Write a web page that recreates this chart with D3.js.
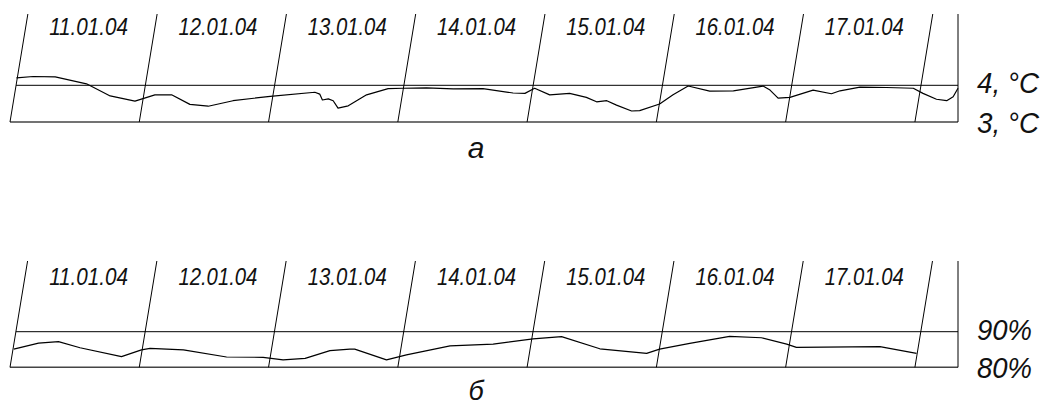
<!DOCTYPE html>
<html>
<head>
<meta charset="utf-8">
<script src="https://d3js.org/d3.v7.min.js"></script>
<style>
  body { margin: 0; background: #fff; }
  svg { display: block; background: #fff; }
  .grid { stroke: #000; stroke-width: 1; fill: none; }
  .base { stroke: #444; stroke-width: 1.6; }
  .curve { fill: none; stroke: #000; stroke-width: 1.2; stroke-linejoin: round; }
  .day { font-family: "Liberation Sans Narrow", "Liberation Sans", sans-serif; font-style: italic; font-size: 24px; fill: #111; }
  .unit { font-family: "Liberation Sans", sans-serif; font-style: italic; font-size: 29px; fill: #111; }
  .cap { font-family: "Liberation Sans", sans-serif; font-style: italic; font-size: 28px; fill: #111; }
</style>
</head>
<body>
<svg id="chart"></svg>
<script>
// days shown along the time axis (hour 0 = start of 11.01.04)
var days = ["11.01.04", "12.01.04", "13.01.04", "14.01.04", "15.01.04", "16.01.04", "17.01.04"];
var dayBounds = [0, 24, 48, 72, 96, 120, 144, 168];

// air temperature, °C  [hour, value]
var tempSeries = [
  [1.2, 4.20], [4.3, 4.24], [8.4, 4.23], [14.2, 4.04], [18.6, 3.71], [23.2, 3.57],
  [26.9, 3.74], [30.0, 3.74], [33.4, 3.48], [36.8, 3.43], [41.4, 3.58], [48.3, 3.70],
  [56.6, 3.81], [57.5, 3.76], [58.0, 3.60], [59.1, 3.63], [60.0, 3.58], [60.9, 3.38],
  [62.8, 3.44], [66.2, 3.74], [70.2, 3.91], [73.0, 3.92], [77.3, 3.93], [82.3, 3.90],
  [87.8, 3.91], [93.4, 3.79], [95.6, 3.78], [97.4, 3.92], [100.2, 3.74], [103.9, 3.78],
  [107.0, 3.67], [108.9, 3.55], [110.8, 3.58], [112.6, 3.46], [115.4, 3.30], [116.9, 3.31],
  [120.6, 3.49], [123.1, 3.74], [125.9, 3.98], [129.9, 3.84], [134.3, 3.85], [139.8, 3.98],
  [141.1, 3.87], [142.6, 3.65], [144.8, 3.67], [149.1, 3.87], [152.5, 3.77], [154.1, 3.85],
  [157.8, 3.95], [162.7, 3.94], [167.7, 3.92], [169.5, 3.78], [172.0, 3.62], [173.9, 3.58],
  [175.1, 3.69], [176.0, 3.92]
];
var tempTicks = [3, 4];
var tempLabels = ["3, °C", "4, °C"];

// relative humidity, %  [hour, value]
var humSeries = [
  [0.7, 85.1], [5.3, 86.8], [9.0, 87.2], [13.0, 85.5], [20.7, 83.0], [24.4, 84.9],
  [26.0, 85.3], [32.2, 84.9], [40.2, 82.9], [47.0, 82.8], [50.7, 82.1], [54.8, 82.5],
  [59.4, 84.7], [63.1, 85.1], [64.0, 85.1], [69.9, 82.1], [73.6, 83.5], [81.7, 86.0],
  [89.7, 86.5], [97.1, 88.0], [102.4, 88.6], [109.5, 85.2], [118.2, 83.9], [120.6, 85.1],
  [126.2, 86.7], [133.6, 88.7], [139.5, 88.3], [144.2, 86.5], [146.0, 85.6], [161.5, 85.8],
  [168.3, 83.9]
];
var humTicks = [80, 90];
var humLabels = ["80%", "90%"];

var captions = ["а", "б"];

var W = 1044, H = 407;
var svg = d3.select("#chart").attr("width", W).attr("height", H);

var x = d3.scaleLinear().domain([0, 176]).range([10, 958]);
var slant = 17.7 / 107; // horizontal shift per px of height for day dividers

var panels = [
  { series: tempSeries, ticks: tempTicks, labels: tempLabels, caption: captions[0],
    top: 14, y: d3.scaleLinear().domain([3, 4]).range([122, 85.3]),
    dayY: 35, capY: 158, capSize: 30 },
  { series: humSeries, ticks: humTicks, labels: humLabels, caption: captions[1],
    top: 261, y: d3.scaleLinear().domain([80, 90]).range([367.3, 331.7]),
    dayY: 285, capY: 400, capSize: 27 }
];

panels.forEach(function (p) {
  var g = svg.append("g");
  var y = p.y;
  var y0 = y(p.ticks[0]), y1 = y(p.ticks[1]);
  var shift = function (yy) { return (y0 - yy) * slant; };
  var xEnd = x.range()[1];

  // bottom axis and upper reference line
  g.append("line").attr("class", "base")
    .attr("x1", x(0)).attr("x2", xEnd).attr("y1", y0).attr("y2", y0);
  g.append("line").attr("class", "grid")
    .attr("x1", x(0) + shift(y1)).attr("x2", xEnd).attr("y1", y1).attr("y2", y1);

  // right edge
  g.append("line").attr("class", "grid")
    .attr("x1", xEnd).attr("x2", xEnd).attr("y1", p.top).attr("y2", y0);

  // slanted day dividers
  g.selectAll(".div").data(dayBounds).enter().append("line")
    .attr("class", "grid")
    .attr("x1", function (d) { return x(d); })
    .attr("y1", y0)
    .attr("x2", function (d) { return x(d) + shift(p.top); })
    .attr("y2", p.top);

  // day labels
  g.selectAll(".day").data(days).enter().append("text")
    .attr("class", "day")
    .attr("x", function (d, i) { return x(dayBounds[i] + 12) + 14; })
    .attr("y", p.dayY)
    .attr("text-anchor", "middle")
    .attr("textLength", 79)
    .attr("lengthAdjust", "spacingAndGlyphs")
    .text(function (d) { return d; });

  // data curve
  var line = d3.line()
    .x(function (d) { return x(d[0]); })
    .y(function (d) { return y(d[1]); });
  g.append("path").attr("class", "curve").attr("d", line(p.series));

  // value labels on the right
  g.selectAll(".unit").data(p.ticks).enter().append("text")
    .attr("class", "unit")
    .attr("x", 977)
    .attr("y", function (d) { return y(d) + (d === p.ticks[0] ? 11 : 8); })
    .attr("textLength", function (d, i) { return p.labels[i].length > 3 ? 62 : 55; })
    .attr("lengthAdjust", "spacingAndGlyphs")
    .text(function (d, i) { return p.labels[i]; });

  // caption
  g.append("text").attr("class", "cap")
    .attr("x", 476).attr("y", p.capY)
    .attr("text-anchor", "middle")
    .style("font-size", p.capSize + "px")
    .text(p.caption);
});
</script>
</body>
</html>
